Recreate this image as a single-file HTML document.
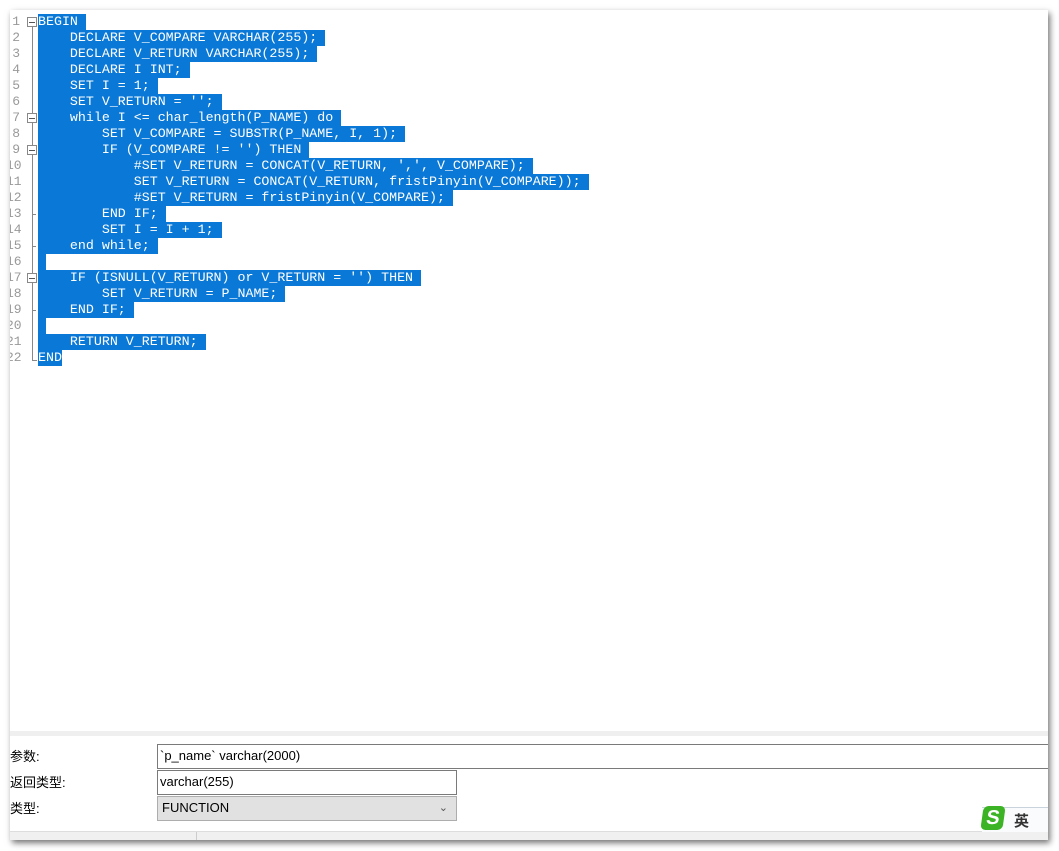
<!DOCTYPE html>
<html><head><meta charset="utf-8"><style>
body{margin:0;width:1059px;height:851px;background:#fff;position:relative;overflow:hidden;font-family:"Liberation Sans","Noto Sans CJK SC",sans-serif}
#win{position:absolute;left:10px;top:10px;width:1038px;height:830px;background:#fff;box-shadow:2px 3px 6px rgba(0,0,0,.55);overflow:hidden}
.ln{position:absolute;left:-4px;width:14px;text-align:right;font:13px "Liberation Mono",monospace;color:#999;line-height:16px}
.cl{position:absolute;left:28px;font:13.3px "Liberation Mono",monospace;line-height:16px;color:#fff;white-space:pre;background:#0a78d7;height:16px}
.fb{position:absolute;left:17px;width:8px;height:8px;border:1px solid #888;background:#fff}
.fb:after{content:"";position:absolute;left:1px;top:4px;width:6px;height:1px;background:#555}
.lab{position:absolute;left:0;font-size:13px;color:#000}
.inp{position:absolute;left:147px;border:1px solid #7a7a7a;background:#fff;font-size:13px;padding-left:2px;box-sizing:border-box;line-height:22px}
</style></head><body>
<div id="win">
<div style="position:absolute;left:22px;top:10px;width:1px;height:340px;background:#888"></div>
<div style="position:absolute;left:22px;top:350px;width:5px;height:1px;background:#888"></div>
<div id="code"></div>
<div style="position:absolute;left:0;top:721px;width:1038px;height:5px;background:#efefef"></div>
<div class="lab" style="top:736px">参数:</div>
<div class="lab" style="top:762px">返回类型:</div>
<div class="lab" style="top:788px">类型:</div>
<div class="inp" style="top:734px;width:895px;height:25px">`p_name` varchar(2000)</div>
<div class="inp" style="top:760px;width:300px;height:25px">varchar(255)</div>
<div class="inp" style="top:786px;width:300px;height:25px;background:#e1e1e1;border-color:#adadad;padding-left:4px">FUNCTION<span style="position:absolute;right:8px;top:0;color:#555;font-size:11px">&#8964;</span></div>
<div style="position:absolute;left:0;top:821px;width:1038px;height:9px;background:#f0f0f0;border-top:1px solid #ddd"></div>
<div style="position:absolute;left:186px;top:822px;width:1px;height:8px;background:#ccc"></div>
<div style="position:absolute;left:972px;top:797px;width:66px;height:24px;background:#fafbfd;border-top:1px solid #c8d3dc"></div>
<div style="position:absolute;left:972px;top:796px;width:22px;height:24px;background:#3bb325;border-radius:5px;transform:skewX(-8deg);color:#fff;font-weight:bold;font-size:20px;text-align:center;line-height:24px">S</div>
<div style="position:absolute;left:1004px;top:800px;font-size:15px;font-weight:bold;color:#333">英</div>
</div>
<script>
var L=["BEGIN","    DECLARE V_COMPARE VARCHAR(255);","    DECLARE V_RETURN VARCHAR(255);","    DECLARE I INT;","    SET I = 1;","    SET V_RETURN = '';","    while I <= char_length(P_NAME) do","        SET V_COMPARE = SUBSTR(P_NAME, I, 1);","        IF (V_COMPARE != '') THEN","            #SET V_RETURN = CONCAT(V_RETURN, ',', V_COMPARE);","            SET V_RETURN = CONCAT(V_RETURN, fristPinyin(V_COMPARE));","            #SET V_RETURN = fristPinyin(V_COMPARE);","        END IF;","        SET I = I + 1;","    end while;","","    IF (ISNULL(V_RETURN) or V_RETURN = '') THEN","        SET V_RETURN = P_NAME;","    END IF;","","    RETURN V_RETURN;","END"];
var h="",folds=[0,6,8,16];
for(var i=0;i<L.length;i++){var t=4+16*i;
h+='<div class="ln" style="top:'+t+'px">'+(i+1)+'</div>';
var s=L[i].replace(/&/g,"&amp;").replace(/</g,"&lt;");
h+='<div class="cl" style="top:'+t+'px">'+s+(i<21?' ':'')+'</div>';
if(folds.indexOf(i)>=0)h+='<div class="fb" style="top:'+(t+3)+'px"></div>';
else if(i==12||i==14||i==18)h+='<div style="position:absolute;left:22px;top:'+(t+8)+'px;width:4px;height:1px;background:#888"></div>';}
document.getElementById("code").innerHTML=h;
</script>
</body></html>
